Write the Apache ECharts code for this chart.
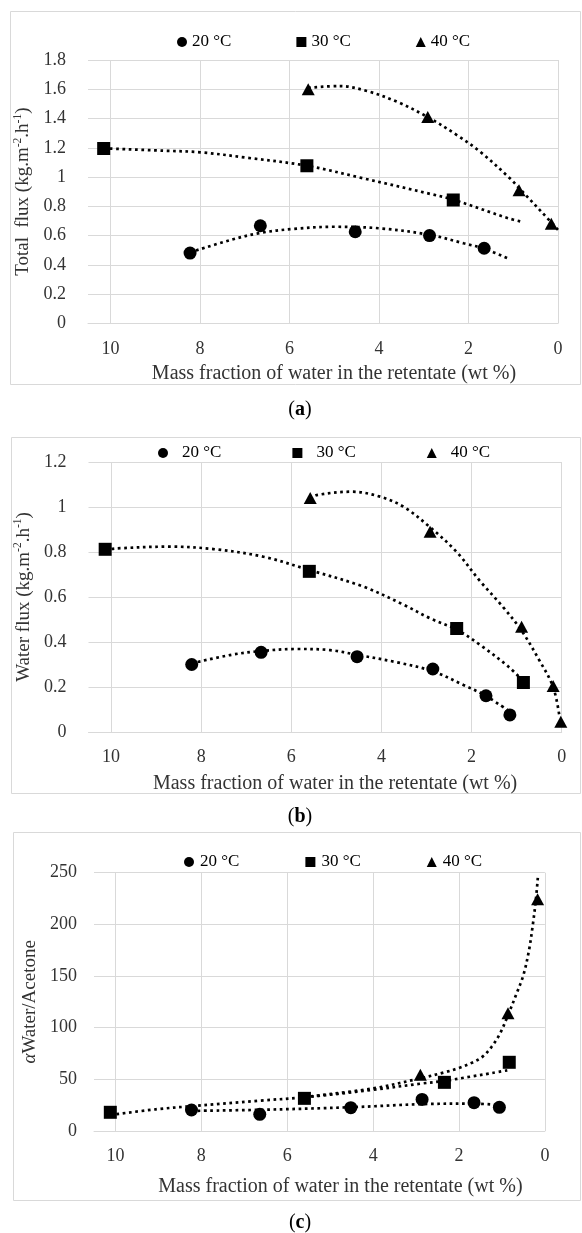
<!DOCTYPE html>
<html>
<head>
<meta charset="utf-8">
<script src="https://cdn.jsdelivr.net/npm/echarts@6/dist/echarts.min.js"></script>
<style>
  html, body { margin: 0; padding: 0; background: #fff; }
  #chart { width: 582px; height: 1233px; }
</style>
</head>
<body>
<div id="chart"></div>
<script>
// legend names
const temps = ['20 °C', '30 °C', '40 °C'];

// (a) total flux, points [wt % water, kg.m-2.h-1]
const totalFlux20 = [[8.22, 0.48], [6.65, 0.667], [4.53, 0.626], [2.87, 0.60], [1.65, 0.513]];
const totalFlux30 = [[10.15, 1.195], [5.61, 1.077], [2.34, 0.843]];
const totalFlux40 = [[5.58, 1.60], [2.91, 1.41], [0.87, 0.91], [0.15, 0.68]];
// (a) trend lines
const totalTrend20 = [[8.22, 0.485], [7.32, 0.569], [6.65, 0.618], [5.91, 0.645], [5.02, 0.66], [3.97, 0.649], [2.87, 0.605], [2.11, 0.547], [1.65, 0.51], [1.07, 0.437]];
const totalTrend30 = [[10.15, 1.196], [8.81, 1.18], [7.99, 1.169], [6.95, 1.132], [5.61, 1.077], [4.35, 0.991], [2.86, 0.885], [2.34, 0.845], [1.11, 0.718], [0.81, 0.694]];
const totalTrend40 = [[5.58, 1.61], [4.87, 1.622], [4.27, 1.588], [3.6, 1.515], [2.91, 1.41], [2.26, 1.287], [1.74, 1.173], [1.07, 0.99], [0.87, 0.925], [0.15, 0.69], [0, 0.638]];

// (b) water flux
const waterFlux20 = [[8.21, 0.30], [6.67, 0.354], [4.54, 0.335], [2.86, 0.28], [1.68, 0.161], [1.15, 0.076]];
const waterFlux30 = [[10.13, 0.812], [5.6, 0.714], [2.33, 0.46], [0.85, 0.22]];
const waterFlux40 = [[5.58, 1.04], [2.92, 0.89], [0.89, 0.468], [0.19, 0.204], [0.02, 0.046]];
const waterTrend20 = [[8.21, 0.305], [7.36, 0.342], [6.67, 0.36], [5.88, 0.369], [5.14, 0.364], [4.54, 0.343], [3.66, 0.31], [2.86, 0.27], [2.18, 0.209], [1.68, 0.16], [1.15, 0.09]];
const waterTrend30 = [[10.13, 0.81], [9.87, 0.816], [8.69, 0.824], [7.73, 0.813], [6.62, 0.779], [5.6, 0.72], [4.4, 0.646], [3.5, 0.565], [2.92, 0.505], [2.33, 0.455], [1.81, 0.387], [1.18, 0.29], [0.85, 0.225]];
const waterTrend40 = [[5.58, 1.035], [5.44, 1.053], [4.66, 1.068], [4.03, 1.046], [3.51, 1.001], [2.92, 0.91], [2.33, 0.80], [1.81, 0.67], [1.3, 0.555], [0.89, 0.45], [0.5, 0.32], [0.19, 0.2], [0.05, 0.07]];

// (c) separation factor water/acetone
const alpha20 = [[8.23, 20.3], [6.64, 16.1], [4.52, 22.6], [2.86, 30.6], [1.65, 27.4], [1.06, 22.9]];
const alpha30 = [[10.12, 18.1], [5.6, 31.6], [2.34, 47.1], [0.83, 66.5]];
const alpha40 = [[2.9, 54.5], [0.86, 113.9], [0.17, 224.2]];
const alphaTrend20 = [[8.23, 19.5], [6.64, 20.5], [4.52, 23], [2.86, 26], [1.65, 26.5], [1.06, 25]];
const alphaTrend30 = [[10.12, 15.5], [9.06, 21], [8.23, 24], [6.64, 29.4], [5.6, 32.6], [4.04, 39.7], [2.86, 46], [2.34, 48.5], [0.83, 59]];
const alphaTrend40 = [[5.6, 33], [4.04, 41], [2.9, 51], [2.32, 57], [2.0, 61], [1.7, 66], [1.45, 72], [1.25, 81], [1.05, 94], [0.86, 112], [0.66, 133], [0.5, 151], [0.37, 175], [0.28, 200], [0.21, 224], [0.165, 245]];

const font = '"Liberation Serif", "DejaVu Serif", serif';
const textColor = '#333';
const gridColor = '#d9d9d9';

const chart = echarts.init(document.getElementById('chart'));

function xAxisFor(idx, labelMargin, nameGap, shift) {
  return {
    type: 'value', gridIndex: idx, min: 0, max: 10.5, interval: 2, inverse: true,
    name: 'Mass fraction of water in the retentate (wt %)',
    nameLocation: 'middle', nameGap: nameGap,
    nameTextStyle: { fontFamily: font, fontSize: 20, color: textColor, padding: [0, 0, 0, shift * 2] },
    axisLine: { show: true, lineStyle: { color: gridColor, width: 1 } },
    axisTick: { show: false },
    axisLabel: {
      margin: labelMargin, fontFamily: font, fontSize: 18, color: textColor,
      formatter: v => (v > 10 ? '' : String(v))
    },
    splitLine: { show: true, showMaxLine: false, lineStyle: { color: gridColor, width: 1 } }
  };
}

function yAxisFor(idx, max, interval, name, rich, labelMargin, nameGap) {
  return {
    type: 'value', gridIndex: idx, min: 0, max: max, interval: interval,
    name: name, nameLocation: 'middle', nameGap: nameGap, nameRotate: 90,
    nameTextStyle: { fontFamily: font, fontSize: 19, color: textColor, rich: rich },
    axisLine: { show: false },
    axisTick: { show: false },
    axisLabel: { margin: labelMargin, fontFamily: font, fontSize: 18, color: textColor },
    splitLine: { show: true, lineStyle: { color: gridColor, width: 1 } }
  };
}

function points(name, data, symbol, idx) {
  return {
    name: name, type: 'scatter', xAxisIndex: idx, yAxisIndex: idx, data: data,
    symbol: symbol, symbolSize: symbol === 'triangle' ? [13, 12] : 13,
    itemStyle: { color: '#000', opacity: 1 }, z: 3
  };
}

function trend(data, idx) {
  return {
    type: 'line', xAxisIndex: idx, yAxisIndex: idx, data: data, smooth: 0.35,
    symbol: 'none', silent: true, z: 2,
    lineStyle: { color: '#000', width: 2.7, type: [2.7, 3.6] }
  };
}

function legendFor(top, left, gap, pad) {
  return {
    data: temps, top: top, left: left, orient: 'horizontal',
    itemWidth: 10, itemHeight: 10, itemGap: gap, selectedMode: false,
    itemStyle: { opacity: 1 },
    textStyle: { fontFamily: font, fontSize: 17, color: '#000', lineHeight: 20, padding: [0, 0, 0, pad] }
  };
}

const supRich = {
  t: { fontFamily: font, fontSize: 19, color: textColor, lineHeight: 23 },
  s: { fontFamily: font, fontSize: 11.5, color: textColor, lineHeight: 12, verticalAlign: 'top' }
};
const alphaRich = {
  g: { fontFamily: font, fontSize: 19, color: textColor, fontStyle: 'italic' },
  t: { fontFamily: font, fontSize: 19, color: textColor }
};

const captionRich = {
  p: { fontFamily: font, fontSize: 20, color: '#000' },
  b: { fontFamily: font, fontSize: 20, color: '#000', fontWeight: 'bold' }
};

function caption(letter, x, y) {
  return {
    type: 'text', x: x, y: y, silent: true,
    style: { text: '{p|(}{b|' + letter + '}{p|)}', rich: captionRich, align: 'center', verticalAlign: 'middle' }
  };
}

function box(x, y, w, h) {
  return {
    type: 'rect', silent: true, z: -10,
    shape: { x: x, y: y, width: w, height: h },
    style: { fill: 'none', stroke: gridColor, lineWidth: 1 }
  };
}

const option = {
  backgroundColor: '#fff',
  animation: false,
  grid: [
    { left: 88, top: 60, width: 470, height: 263.3, outerBoundsMode: 'none' },
    { left: 88.5, top: 462, width: 473.2, height: 270, outerBoundsMode: 'none' },
    { left: 94, top: 872.7, width: 450.9, height: 258.3, outerBoundsMode: 'none' }
  ],
  xAxis: [
    xAxisFor(0, 17, 40, 11),
    xAxisFor(1, 16, 42, 10),
    xAxisFor(2, 16, 46, 21)
  ],
  yAxis: [
    yAxisFor(0, 1.8, 0.2, '{t|Total  flux (kg.m}{s|-2}{t|.h}{s|-1}{t|)}', supRich, 22, 47),
    yAxisFor(1, 1.2, 0.2, '{t|Water flux (kg.m}{s|-2}{t|.h}{s|-1}{t|)}', supRich, 22, 47),
    yAxisFor(2, 250, 50, '{g|α}{t|Water/Acetone}', alphaRich, 17, 52)
  ],
  legend: [
    legendFor(27, 172, 65, 0),
    legendFor(438, 153, 71, 9),
    legendFor(847, 179, 66, 1)
  ],
  graphic: [
    box(10.5, 11.5, 570, 373),
    box(11.5, 437.5, 569, 356),
    box(13.5, 832.5, 567, 368),
    caption('a', 300, 410),
    caption('b', 300, 817),
    caption('c', 300, 1223)
  ],
  series: [
    trend(totalTrend20, 0), trend(totalTrend30, 0), trend(totalTrend40, 0),
    points(temps[0], totalFlux20, 'circle', 0),
    points(temps[1], totalFlux30, 'rect', 0),
    points(temps[2], totalFlux40, 'triangle', 0),

    trend(waterTrend20, 1), trend(waterTrend30, 1), trend(waterTrend40, 1),
    points(temps[0], waterFlux20, 'circle', 1),
    points(temps[1], waterFlux30, 'rect', 1),
    points(temps[2], waterFlux40, 'triangle', 1),

    trend(alphaTrend20, 2), trend(alphaTrend30, 2), trend(alphaTrend40, 2),
    points(temps[0], alpha20, 'circle', 2),
    points(temps[1], alpha30, 'rect', 2),
    points(temps[2], alpha40, 'triangle', 2)
  ]
};

chart.setOption(option);
</script>
</body>
</html>
